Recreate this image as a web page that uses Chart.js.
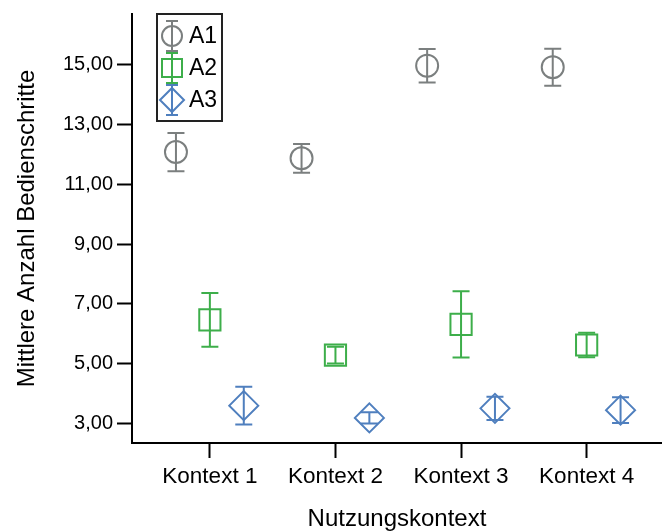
<!DOCTYPE html>
<html lang="de">
<head>
    <meta charset="UTF-8">
    <title>Mittlere Anzahl Bedienschritte je Nutzungskontext</title>
    <script src="https://cdn.jsdelivr.net/npm/chart.js"></script>
    <style>
        body {
            margin: 0;
            background: #fff;
        }
        .chart-container {
            width: 662px;
            height: 531px;
        }
    </style>
</head>
<body>
    <div class="chart-container">
        <canvas id="kontextChart"></canvas>
    </div>

    <script>
        // Kategorien und Achsenbeschriftung
        const kategorien = ['Kontext 1', 'Kontext 2', 'Kontext 3', 'Kontext 4'];
        const yTicks = [3, 5, 7, 9, 11, 13, 15];

        // Mittelwerte und Fehlerbalken (halbe Länge) je Gruppe
        const a1Mittel = [12.08, 11.87, 14.97, 14.92];
        const a1Fehler = [0.64, 0.48, 0.56, 0.62];
        const a2Mittel = [6.46, 5.28, 6.31, 5.62];
        const a2Fehler = [0.90, 0.28, 1.11, 0.41];
        const a3Mittel = [3.59, 3.18, 3.50, 3.44];
        const a3Fehler = [0.63, 0.19, 0.39, 0.43];

        const farben = { A1: '#7b7f7f', A2: '#3dae4a', A3: '#4f7fbe' };

        // Punkte bauen (seitlicher Versatz je Gruppe)
        function punkte(mittel, fehler, versatz) {
            return mittel.map((m, i) => ({ x: i + 1 + versatz, y: m, err: fehler[i] }));
        }

        // Fehlerbalken zeichnen
        const fehlerBalken = {
            id: 'fehlerBalken',
            afterDatasetsDraw(chart) {
                const ctx = chart.ctx;
                const xs = chart.scales.x;
                const ys = chart.scales.y;
                chart.data.datasets.forEach(ds => {
                    ctx.save();
                    ctx.strokeStyle = ds.borderColor;
                    ctx.lineWidth = 2;
                    ds.data.forEach(p => {
                        const px = xs.getPixelForValue(p.x);
                        const oben = ys.getPixelForValue(p.y + p.err);
                        const unten = ys.getPixelForValue(p.y - p.err);
                        ctx.beginPath();
                        ctx.moveTo(px, oben);
                        ctx.lineTo(px, unten);
                        ctx.moveTo(px - 8.5, oben);
                        ctx.lineTo(px + 8.5, oben);
                        ctx.moveTo(px - 8.5, unten);
                        ctx.lineTo(px + 8.5, unten);
                        ctx.stroke();
                    });
                    ctx.restore();
                });
            }
        };

        // Legende mit Rahmen oben links im Diagramm
        const legendeBox = {
            id: 'legendeBox',
            afterDraw(chart) {
                const ctx = chart.ctx;
                const left = chart.chartArea.left + 25;
                const top = chart.chartArea.top;
                ctx.save();
                ctx.lineWidth = 2;
                ctx.strokeStyle = '#222';
                ctx.strokeRect(left, top, 65, 107);
                chart.data.datasets.forEach((ds, i) => {
                    const cx = left + 15;
                    const cy = top + 22 + i * 32;
                    ctx.strokeStyle = ds.borderColor;
                    ctx.lineWidth = 2;
                    ctx.beginPath();
                    if (ds.pointStyle === 'circle') {
                        ctx.arc(cx, cy, 10, 0, Math.PI * 2);
                    } else if (ds.pointStyle === 'rect') {
                        ctx.rect(cx - 10, cy - 9, 20, 18);
                    } else {
                        ctx.moveTo(cx - 12, cy);
                        ctx.lineTo(cx, cy - 12);
                        ctx.lineTo(cx + 12, cy);
                        ctx.lineTo(cx, cy + 12);
                        ctx.closePath();
                    }
                    ctx.moveTo(cx, cy - 15);
                    ctx.lineTo(cx, cy + 15);
                    ctx.moveTo(cx - 6, cy - 15);
                    ctx.lineTo(cx + 6, cy - 15);
                    ctx.moveTo(cx - 6, cy + 15);
                    ctx.lineTo(cx + 6, cy + 15);
                    ctx.stroke();
                    ctx.fillStyle = '#000';
                    ctx.font = '23px Arial, "Liberation Sans", sans-serif';
                    ctx.textBaseline = 'middle';
                    ctx.fillText(ds.label, left + 32, cy + 1);
                });
                ctx.restore();
            }
        };

        Chart.defaults.font.family = 'Arial, "Liberation Sans", sans-serif';
        Chart.defaults.color = '#000';

        const ctx = document.getElementById('kontextChart').getContext('2d');
        new Chart(ctx, {
            type: 'scatter',
            data: {
                datasets: [
                    {
                        label: 'A1',
                        data: punkte(a1Mittel, a1Fehler, -0.27),
                        borderColor: farben.A1,
                        backgroundColor: 'rgba(0,0,0,0)',
                        pointStyle: 'circle',
                        pointRadius: 11,
                        pointBorderWidth: 2
                    },
                    {
                        label: 'A2',
                        data: punkte(a2Mittel, a2Fehler, 0),
                        borderColor: farben.A2,
                        backgroundColor: 'rgba(0,0,0,0)',
                        pointStyle: 'rect',
                        pointRadius: 15,
                        pointBorderWidth: 2
                    },
                    {
                        label: 'A3',
                        data: punkte(a3Mittel, a3Fehler, 0.27),
                        borderColor: farben.A3,
                        backgroundColor: 'rgba(0,0,0,0)',
                        pointStyle: 'rectRot',
                        pointRadius: 14.5,
                        pointBorderWidth: 2
                    }
                ]
            },
            options: {
                responsive: true,
                maintainAspectRatio: false,
                animation: false,
                layout: { autoPadding: false, padding: { top: 14, right: 0, bottom: 0, left: 0 } },
                plugins: {
                    legend: { display: false },
                    tooltip: { enabled: false }
                },
                scales: {
                    x: {
                        type: 'linear',
                        min: 0.38,
                        max: 4.6,
                        afterBuildTicks: s => { s.ticks = kategorien.map((k, i) => ({ value: i + 1 })); },
                        afterFit: s => { s.height = 88; s.paddingLeft = 0; s.paddingRight = 0; },
                        grid: { drawOnChartArea: false, drawTicks: true, tickLength: 15, tickColor: '#000', tickWidth: 2 },
                        border: { display: true, color: '#000', width: 2 },
                        ticks: {
                            padding: 5,
                            color: '#000',
                            font: { size: 22.5 },
                            maxRotation: 0,
                            callback: v => kategorien[v - 1]
                        },
                        title: {
                            display: true,
                            text: 'Nutzungskontext',
                            color: '#000',
                            font: { size: 24, lineHeight: 1.0 },
                            padding: { top: 0, bottom: 0 }
                        }
                    },
                    y: {
                        min: 2.34,
                        max: 16.7,
                        afterBuildTicks: s => { s.ticks = yTicks.map(v => ({ value: v })); },
                        afterFit: s => { s.width = 132; s.paddingTop = 0; s.paddingBottom = 0; },
                        grid: { drawOnChartArea: false, drawTicks: true, tickLength: 15, tickColor: '#000', tickWidth: 2 },
                        border: { display: true, color: '#000', width: 2 },
                        ticks: {
                            padding: 4,
                            color: '#000',
                            font: { size: 20 },
                            callback: v => v.toFixed(2).replace('.', ',')
                        },
                        title: {
                            display: true,
                            text: 'Mittlere Anzahl Bedienschritte',
                            color: '#000',
                            font: { size: 24 },
                            padding: { top: 13, bottom: 0 }
                        }
                    }
                }
            },
            plugins: [fehlerBalken, legendeBox]
        });
    </script>
</body>
</html>
